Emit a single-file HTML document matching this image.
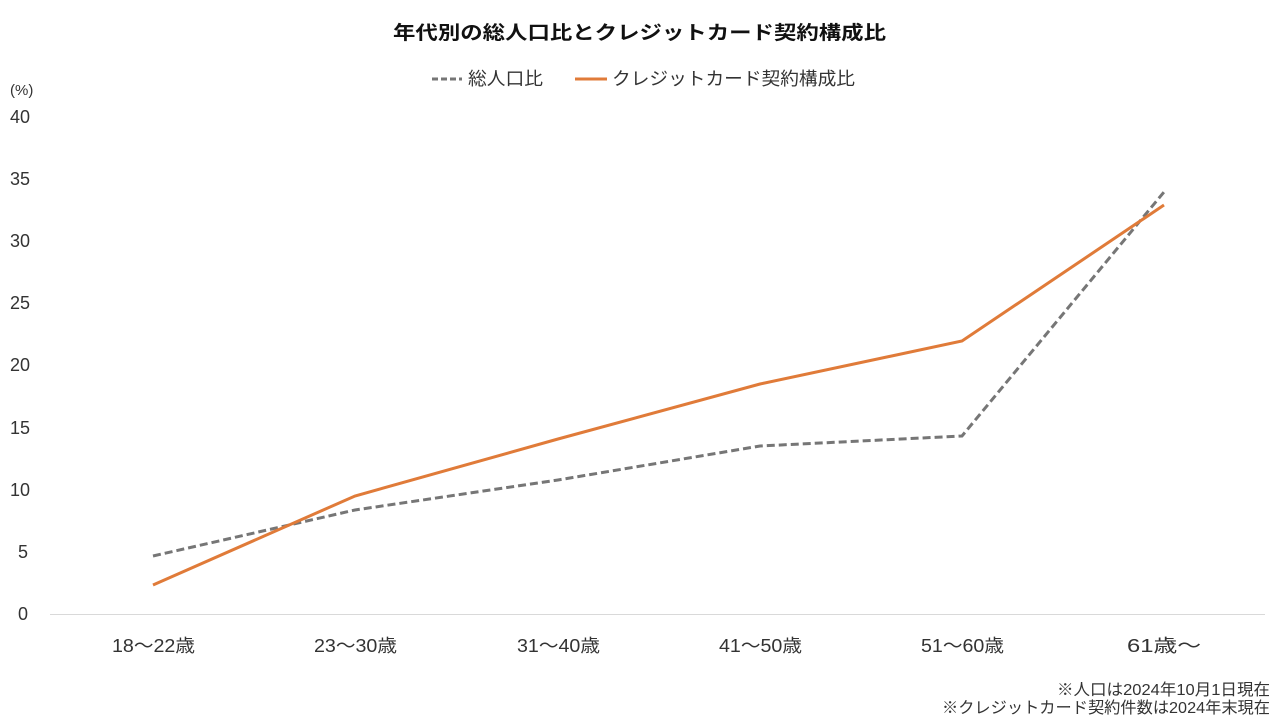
<!DOCTYPE html>
<html><head><meta charset="utf-8"><style>
body{margin:0;background:#fff;}
svg text{font-family:"Liberation Sans","Noto Sans CJK JP",sans-serif;fill:#333;}
</style></head><body>
<svg width="1280" height="720" viewBox="0 0 1280 720" xmlns="http://www.w3.org/2000/svg">
<rect width="1280" height="720" fill="#fff"/>
<text x="393" y="39" font-size="19" font-weight="bold" textLength="493" lengthAdjust="spacingAndGlyphs" style="fill:#111">年代別の総人口比とクレジットカード契約構成比</text>
<line x1="432" y1="79" x2="462" y2="79" stroke="#767676" stroke-width="3" stroke-dasharray="6,3"/>
<text x="468" y="85" font-size="18" textLength="75" lengthAdjust="spacingAndGlyphs">総人口比</text>
<line x1="575" y1="79" x2="607" y2="79" stroke="#e07b39" stroke-width="3"/>
<text x="612" y="85" font-size="18" textLength="243" lengthAdjust="spacingAndGlyphs">クレジットカード契約構成比</text>
<text x="10" y="95" font-size="15">(%)</text>
<g font-size="18">
<text x="10" y="123">40</text><text x="10" y="185">35</text><text x="10" y="247">30</text>
<text x="10" y="309">25</text><text x="10" y="371">20</text><text x="10" y="434">15</text>
<text x="10" y="496">10</text><text x="18" y="558">5</text><text x="18" y="620">0</text>
</g>
<line x1="50" y1="614.5" x2="1265" y2="614.5" stroke="#d9d9d9" stroke-width="1"/>
<g font-size="18">
<text x="112" y="652" textLength="83" lengthAdjust="spacingAndGlyphs">18～22歳</text>
<text x="314" y="652" textLength="83" lengthAdjust="spacingAndGlyphs">23～30歳</text>
<text x="517" y="652" textLength="83" lengthAdjust="spacingAndGlyphs">31～40歳</text>
<text x="719" y="652" textLength="83" lengthAdjust="spacingAndGlyphs">41～50歳</text>
<text x="921" y="652" textLength="83" lengthAdjust="spacingAndGlyphs">51～60歳</text>
<text x="1127" y="652" textLength="74" lengthAdjust="spacingAndGlyphs">61歳～</text>
</g>
<polyline points="153,556 355,510 558,480 760,446 962,436 1164,192" fill="none" stroke="#767676" stroke-width="3" stroke-dasharray="8,4"/>
<polyline points="153,585 355,496 558,439 760,384 962,341 1164,205" fill="none" stroke="#e07b39" stroke-width="3"/>
<g font-size="16" style="fill:#111">
<text x="1057" y="695" textLength="213" lengthAdjust="spacingAndGlyphs">※人口は2024年10月1日現在</text>
<text x="942" y="713" textLength="328" lengthAdjust="spacingAndGlyphs">※クレジットカード契約件数は2024年末現在</text>
</g>
</svg>
</body></html>
